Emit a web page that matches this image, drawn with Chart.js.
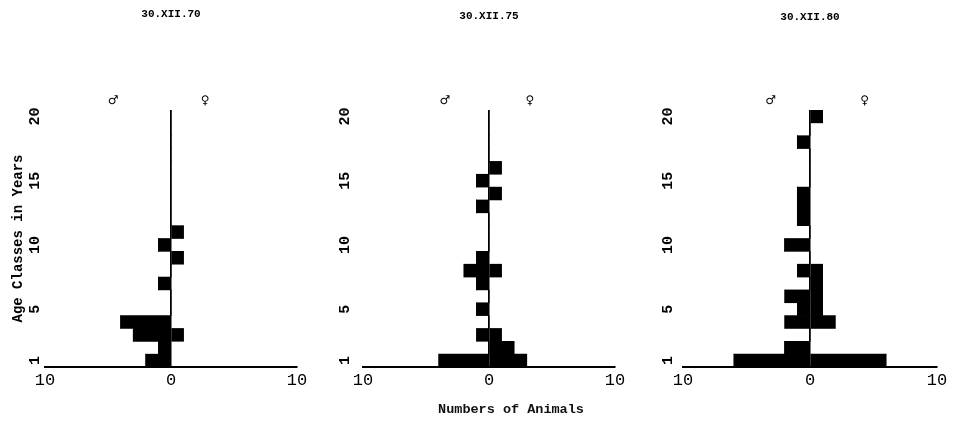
<!DOCTYPE html>
<html>
<head>
<meta charset="utf-8">
<title>Age structure 1970 - 1980</title>
<script src="https://cdn.jsdelivr.net/npm/chart.js@4.4.1/dist/chart.umd.min.js"></script>
<style>
  html, body { margin: 0; padding: 0; background: #fff; }
  #wrap { position: relative; width: 954px; height: 422px; overflow: hidden; }
  .panel { position: absolute; top: 0; width: 318px; height: 422px; }
  #xTitle {
    position: absolute; left: 411px; width: 200px; top: 402px;
    text-align: center; line-height: 16px;
    font: bold 13.5px "Liberation Mono", monospace; color: #111;
  }
</style>
</head>
<body>
<div id="wrap">
  <div class="panel" style="left:0px"><canvas id="c70" width="318" height="422"></canvas></div>
  <div class="panel" style="left:318px"><canvas id="c75" width="318" height="422"></canvas></div>
  <div class="panel" style="left:636px"><canvas id="c80" width="318" height="422"></canvas></div>
  <div id="xTitle">Numbers of Animals</div>
</div>
<script>
// age classes, bottom (1) to top (20)
const ageClasses = ["1", "2", "3", "4", "5", "6", "7", "8", "9", "10",
  "11", "12", "13", "14", "15", "16", "17", "18", "19", "20"];
const ageTicks = ["1", "5", "10", "15", "20"];

// counts per age class
const males1970   = [2, 1, 3, 4, 0, 0, 1, 0, 0, 1, 0, 0, 0, 0, 0, 0, 0, 0, 0, 0];
const females1970 = [0, 0, 1, 0, 0, 0, 0, 0, 1, 0, 1, 0, 0, 0, 0, 0, 0, 0, 0, 0];
const males1975   = [4, 0, 1, 0, 1, 0, 1, 2, 1, 0, 0, 0, 1, 0, 1, 0, 0, 0, 0, 0];
const females1975 = [3, 2, 1, 0, 0, 0, 0, 1, 0, 0, 0, 0, 0, 1, 0, 1, 0, 0, 0, 0];
const males1980   = [6, 2, 0, 2, 1, 2, 0, 1, 0, 2, 0, 1, 1, 1, 0, 0, 0, 1, 0, 0];
const females1980 = [6, 0, 0, 2, 1, 1, 1, 1, 0, 0, 0, 0, 0, 0, 0, 0, 0, 0, 0, 1];

const mono = "'Liberation Mono', 'DejaVu Sans Mono', monospace";

// draws the male / female signs above the plot
const sexSymbols = {
  id: "sexSymbols",
  afterDraw(chart, _args, opts) {
    const { ctx, chartArea, scales } = chart;
    ctx.save();
    ctx.font = "bold 12px 'DejaVu Sans', sans-serif";
    ctx.fillStyle = "#000";
    ctx.textAlign = "center";
    ctx.textBaseline = "middle";
    ctx.fillText("\u2642", scales.x.getPixelForValue(opts.male), chartArea.top - 9);
    ctx.fillText("\u2640", scales.x.getPixelForValue(opts.female), chartArea.top - 9);
    ctx.restore();
  },
};

function buildPanel(id, title, males, females, cfg) {
  const titleSize = 11;
  const titleBox = titleSize * 1.2;
  return new Chart(document.getElementById(id), {
    type: "bar",
    data: {
      labels: ageClasses,
      datasets: [
        {
          label: "Males",
          data: males.map((v) => -v),
          backgroundColor: "#000",
          borderWidth: 0,
          barPercentage: 1,
          categoryPercentage: 1,
        },
        {
          label: "Females",
          data: females,
          backgroundColor: "#000",
          borderWidth: 0,
          barPercentage: 1,
          categoryPercentage: 1,
        },
      ],
    },
    options: {
      indexAxis: "y",
      responsive: false,
      animation: false,
      layout: { padding: { left: 0, right: cfg.right, top: 0, bottom: 0 } },
      plugins: {
        legend: { display: false },
        tooltip: { enabled: false },
        title: {
          display: true,
          text: title,
          fullSize: false,
          color: "#000",
          font: { family: mono, size: titleSize, weight: "bold" },
          padding: { top: cfg.titleTop, bottom: 110 - cfg.titleTop - titleBox },
        },
        sexSymbols: { male: cfg.male, female: cfg.female },
      },
      scales: {
        x: {
          type: "linear",
          min: -10,
          max: 10,
          stacked: true,
          ticks: {
            stepSize: 10,
            color: "#000",
            padding: 3,
            font: { family: mono, size: 17 },
            callback: (v) => Math.abs(v),
          },
          grid: {
            drawTicks: false,
            lineWidth: 1.5,
            color: (ctx) => (ctx.tick && ctx.tick.value === 0 ? "#000" : "rgba(0,0,0,0)"),
          },
          border: { display: true, color: "#000", width: 2 },
          afterFit: (scale) => { scale.height = 55; },
        },
        y: {
          type: "category",
          reverse: true,
          stacked: true,
          ticks: {
            autoSkip: false,
            minRotation: 90,
            maxRotation: 90,
            crossAlign: "center",
            padding: cfg.tickPad,
            color: "#000",
            font: { family: mono, size: 15, weight: "bold" },
            callback(value) {
              const label = this.getLabelForValue(value);
              return ageTicks.includes(label) ? label : "";
            },
          },
          grid: { display: false, drawTicks: false },
          border: { display: false },
          title: {
            display: cfg.yTitle,
            text: "Age Classes in Years",
            color: "#000",
            padding: { top: 10, bottom: 0 },
            font: { family: mono, size: 14, weight: "bold" },
          },
          afterFit: (scale) => { scale.width = cfg.axisWidth; },
        },
      },
    },
    plugins: [sexSymbols],
  });
}

buildPanel("c70", "30.XII.70", males1970, females1970,
  { right: 21, axisWidth: 45, tickPad: 1, titleTop: 8, male: -4.6, female: 2.7, yTitle: true });
buildPanel("c75", "30.XII.75", males1975, females1975,
  { right: 21, axisWidth: 45, tickPad: 9, titleTop: 9.5, male: -3.5, female: 3.25, yTitle: false });
buildPanel("c80", "30.XII.80", males1980, females1980,
  { right: 17, axisWidth: 47, tickPad: 6, titleTop: 10.5, male: -3.1, female: 4.3, yTitle: false });
</script>
</body>
</html>
